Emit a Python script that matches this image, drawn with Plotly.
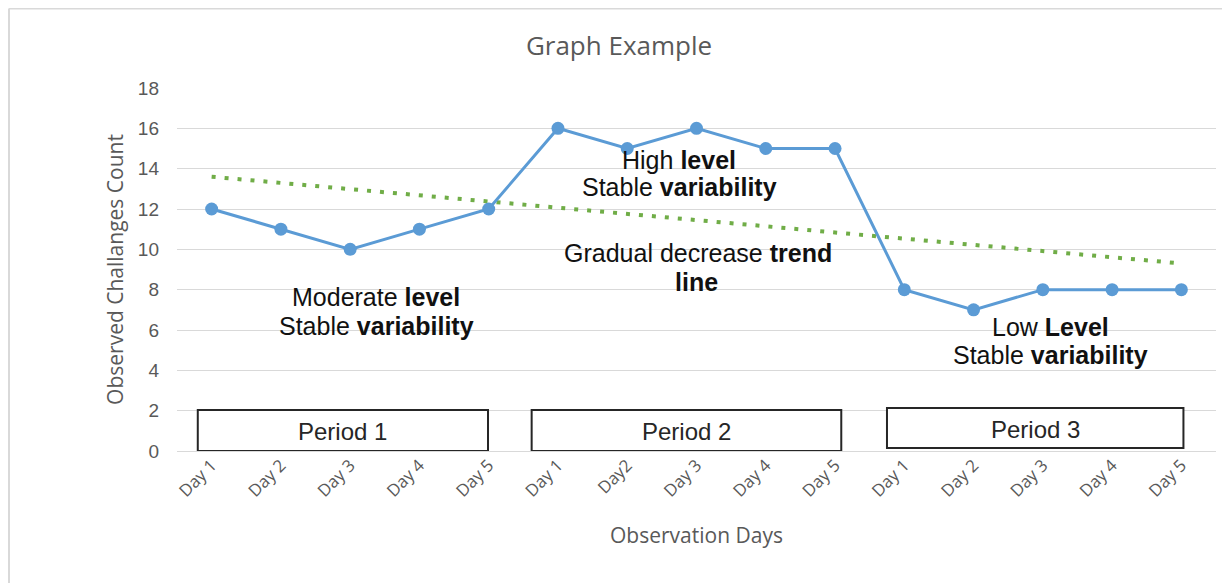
import plotly.graph_objects as go

title_text = "Graph Example"
day_labels = ["Day 1", "Day 2", "Day 3", "Day 4", "Day 5",
              "Day 1", "Day2", "Day 3", "Day 4", "Day 5",
              "Day 1", "Day 2", "Day 3", "Day 4", "Day 5"]
challenges = [12, 11, 10, 11, 12, 16, 15, 16, 15, 15, 8, 7, 8, 8, 8]
trend_values = [13.6, 9.3]
period_names = ["Period 1", "Period 2", "Period 3"]
note_lines = ["Moderate <b>level</b>", "Stable <b>variability</b>",
              "High <b>level</b>", "Stable <b>variability</b>",
              "Gradual decrease <b>trend</b>", "<b>line</b>",
              "Low <b>Level</b>", "Stable <b>variability</b>"]
y_ticks = [0, 2, 4, 6, 8, 10, 12, 14, 16, 18]

xs = list(range(len(day_labels)))

# page has an 8px body margin; the figure is sized to fit the window
W, H = 1222, 575
L, R, T, B = 169, 14, 80, 132
pw, ph = W - L - R, H - T - B

fig = go.Figure()
fig.add_trace(go.Scatter(
    x=[xs[0], xs[-1]], y=trend_values, mode="lines",
    line=dict(color="#70AD47", width=4, dash="4px,9px"),
    hoverinfo="skip", showlegend=False))
fig.add_trace(go.Scatter(
    x=xs, y=challenges, mode="lines+markers",
    line=dict(color="#5B9BD5", width=3),
    marker=dict(color="#5B9BD5", size=13),
    showlegend=False))

shapes = []
annotations = []
box_pos = [(-0.2, 3.99, 0.0, 2.03), (4.62, 9.09, 0.0, 2.03), (9.75, 14.03, 0.15, 2.13)]
for name, (x0, x1, y0, y1) in zip(period_names, box_pos):
    shapes.append(dict(type="rect", xref="x", yref="y", x0=x0, x1=x1, y0=y0, y1=y1,
                       line=dict(color="#262626", width=2), fillcolor="white", layer="above"))
    annotations.append(dict(x=(x0 + x1) / 2, y=(y0 + y1) / 2 - 0.05, xref="x", yref="y",
                            text=name, showarrow=False,
                            font=dict(family="Liberation Sans, Arial", size=24, color="#262626")))

note_pos = [(2.38, 7.63), (2.38, 6.20),
            (6.75, 14.43), (6.75, 13.09),
            (7.02, 9.82), (7.0, 8.38),
            (12.11, 6.15), (12.11, 4.76)]
for txt, (nx, ny) in zip(note_lines, note_pos):
    annotations.append(dict(x=nx, y=ny, xref="x", yref="y", text=txt, showarrow=False,
                            align="center",
                            font=dict(family="Liberation Sans, Arial", size=25, color="#111111")))

# outer chart border (left and top edges visible)
bx = 1 / pw - L / pw
by_top = 1 + (T - 0.5) / ph
shapes.append(dict(type="line", xref="paper", yref="paper", x0=bx, x1=bx, y0=by_top, y1=-1,
                   line=dict(color="#D9D9D9", width=2)))
shapes.append(dict(type="line", xref="paper", yref="paper", x0=bx, x1=2, y0=by_top, y1=by_top,
                   line=dict(color="#D9D9D9", width=2)))

fig.update_layout(
    width=W, height=H,
    margin=dict(l=L, r=R, t=T, b=B),
    paper_bgcolor="white", plot_bgcolor="white",
    title=dict(text=title_text, x=0.5, xref="container", xanchor="center",
               y=1 - 38 / H, yanchor="middle",
               font=dict(family="Open Sans", size=26, color="#595959")),
    xaxis=dict(range=[-0.5, len(xs) - 0.5], tickvals=xs, ticktext=day_labels,
               tickangle=-45, showgrid=False, zeroline=False, showline=False,
               tickfont=dict(family="Open Sans", size=17, color="#595959"),
               title=dict(text="Observation Days", standoff=27,
                          font=dict(family="Open Sans", size=21, color="#595959"))),
    yaxis=dict(range=[0, 18], tickvals=y_ticks, showgrid=True, gridcolor="#D9D9D9",
               gridwidth=1, zeroline=True, zerolinecolor="#D9D9D9", zerolinewidth=1,
               showline=False, ticks="", ticklabelstandoff=17,
               tickfont=dict(family="Liberation Sans, Arial", size=19, color="#595959"),
               title=dict(text="Observed Challanges Count", standoff=8,
                          font=dict(family="Open Sans", size=21, color="#595959"))),
    shapes=shapes, annotations=annotations,
)

fig.write_html("out.html")
